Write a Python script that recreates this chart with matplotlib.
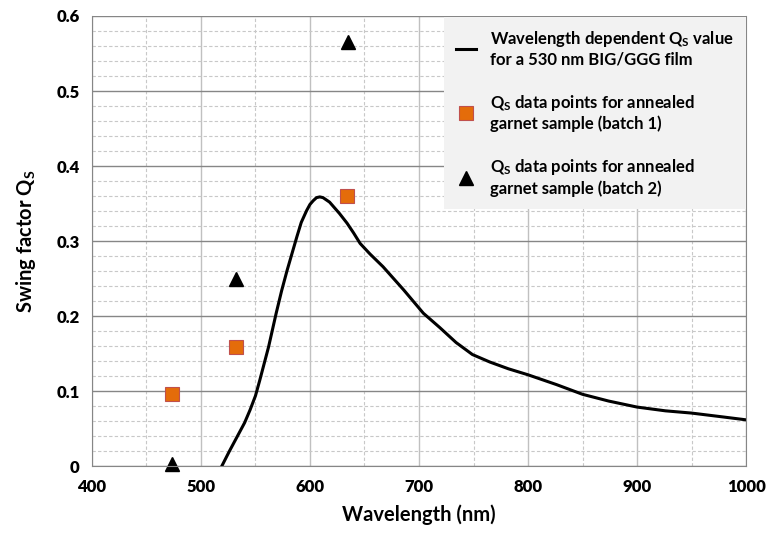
import matplotlib.pyplot as plt
from matplotlib.ticker import MultipleLocator

plt.rcParams['font.family'] = ['Lato', 'DejaVu Sans']
plt.rcParams['font.weight'] = 'bold'
plt.rcParams['axes.labelweight'] = 'bold'
plt.rcParams['mathtext.fontset'] = 'custom'
plt.rcParams['mathtext.rm'] = 'Lato:bold'
plt.rcParams['mathtext.default'] = 'rm'

# simulated Qs curve for the 530 nm film
wl = [519, 526, 533, 540, 545, 550, 554, 558, 562, 569, 574, 579, 584, 588,
      592, 597, 600, 603, 606, 609, 612, 615, 618, 621, 627, 634, 640, 646,
      655, 667, 686, 704, 719, 734, 749, 765, 782, 800, 826, 850, 874, 900,
      926, 950, 978, 1000]
qs = [0.0, 0.02, 0.039, 0.058, 0.075, 0.094, 0.115, 0.137, 0.159, 0.204,
      0.234, 0.261, 0.286, 0.306, 0.325, 0.341, 0.349, 0.354, 0.358, 0.359,
      0.358, 0.355, 0.352, 0.347, 0.337, 0.324, 0.311, 0.297, 0.283, 0.266,
      0.235, 0.204, 0.185, 0.165, 0.149, 0.139, 0.130, 0.122, 0.109, 0.096,
      0.087, 0.079, 0.074, 0.071, 0.066, 0.062]

# measured points
b1_wl = [473, 532, 634]
b1_qs = [0.097, 0.159, 0.360]
b2_wl = [473, 532, 635]
b2_qs = [0.003, 0.249, 0.566]

x_ticks = [400, 500, 600, 700, 800, 900, 1000]
y_ticks = [0, 0.1, 0.2, 0.3, 0.4, 0.5, 0.6]
y_labels = ['0', '0.1', '0.2', '0.3', '0.4', '0.5', '0.6']

fig = plt.figure(figsize=(7.66, 5.33), dpi=100)
ax = fig.add_axes([0.120, 0.125, 0.854, 0.845])

ax.plot(wl, qs, color='black', lw=2.2, solid_joinstyle='round',
        label='Wavelength dependent Q$_{S}$ value\nfor a 530 nm BIG/GGG film')
ax.plot(b1_wl, b1_qs, 's', color='#e46c0a', mec='#c0504d', mew=0.8, ms=10,
        label='Q$_{S}$ data points for annealed\ngarnet sample (batch 1)', clip_on=False)
ax.plot(b2_wl, b2_qs, '^', color='black', ms=10,
        label='Q$_{S}$ data points for annealed\ngarnet sample (batch 2)', clip_on=False)

ax.set_xlim(400, 1000)
ax.set_ylim(0, 0.6)
ax.set_xticks(x_ticks, [str(v) for v in x_ticks], fontweight='heavy', fontsize=12)
ax.set_yticks(y_ticks, y_labels, fontweight='heavy', fontsize=12)
ax.xaxis.set_minor_locator(MultipleLocator(50))
ax.yaxis.set_minor_locator(MultipleLocator(0.02))

ax.grid(which='major', axis='y', color='#868686', lw=1.0, ls='-')
ax.grid(which='major', axis='x', color='#c0c0c0', lw=1.0, ls='-')
ax.grid(which='minor', color='#c8c8c8', lw=0.8, ls=(0, (3, 2)))
ax.set_axisbelow(True)

ax.tick_params(which='both', length=0, pad=9)
for s in ax.spines.values():
    s.set_color('#868686')
ax.spines['top'].set_visible(False)

ax.set_xlabel('Wavelength (nm)', fontsize=14.5, fontweight='bold', labelpad=7)
ax.set_ylabel('Swing factor Q$_{S}$', fontsize=14.5, fontweight='bold', labelpad=13)

leg = ax.legend(loc='upper right', bbox_to_anchor=(1.0, 0.998),
                prop={'size': 12, 'weight': 'bold'},
                frameon=True, fancybox=False, facecolor='#f2f2f2',
                edgecolor='none', framealpha=1, handlelength=1.2,
                labelspacing=1.5, borderpad=0.75, handletextpad=0.8,
                borderaxespad=0)

fig.savefig('out.png', dpi=100)
